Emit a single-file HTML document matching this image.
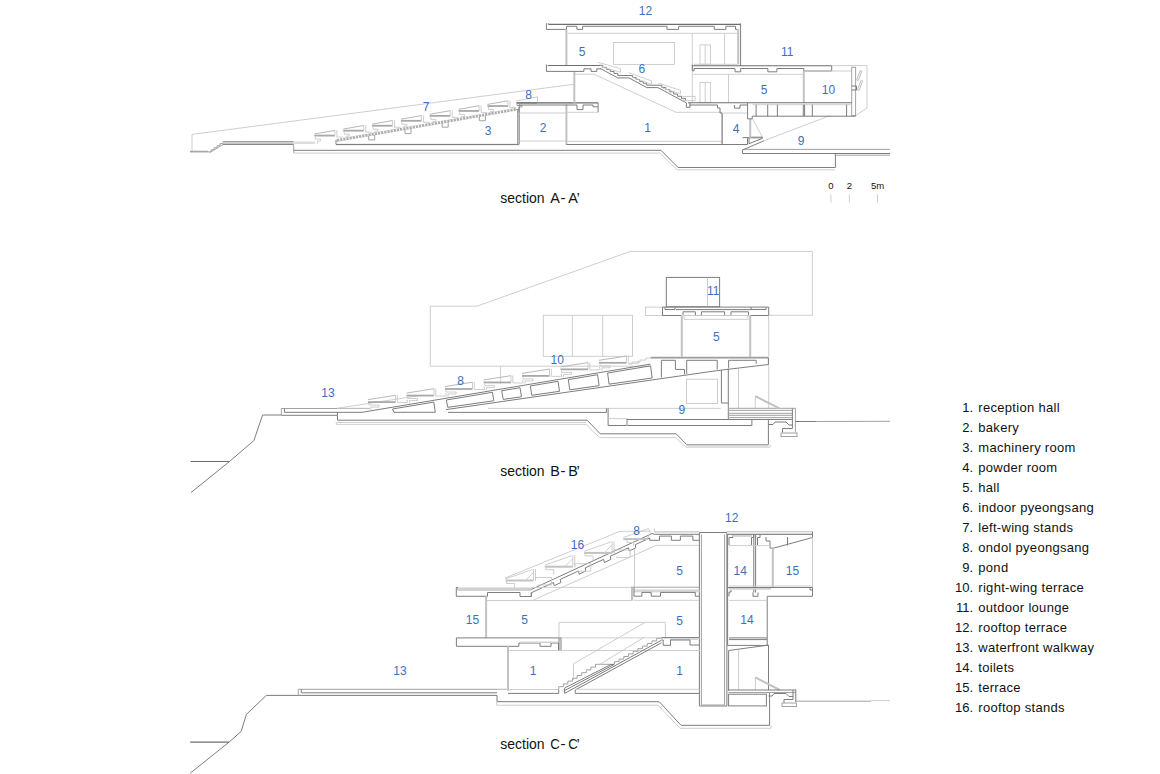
<!DOCTYPE html>
<html><head><meta charset="utf-8"><style>
html,body{margin:0;padding:0;background:#fff;}
body{width:1160px;height:774px;overflow:hidden;}
svg{display:block;}
text{font-family:"Liberation Sans",sans-serif;}
.d{fill:none;stroke:#7d7d7d;stroke-width:1;}
.k{fill:none;stroke:#6e6e6e;stroke-width:1.1;}
.m{fill:none;stroke:#a2a2a2;stroke-width:1;}
.l{fill:none;stroke:#c8c8c8;stroke-width:0.9;}
.g{fill:none;stroke:#c2c2c2;stroke-width:2;}
.s{fill:none;stroke:#a8a8a8;stroke-width:1.8;}
.n{fill:none;stroke:#b8b8b8;stroke-width:1;}
.h{fill:none;stroke:#adadad;stroke-width:2.6;}
</style></head><body>
<svg width="1160" height="774" viewBox="0 0 1160 774">
<path class="l" d="M192 134.4 L573 84.4"/>
<path class="l" d="M192 134.4 L192 151"/>
<path class="s" d="M190 151.6 L208.2 151.6"/>
<path class="m" d="M208.1 151.9 L211.1 151.9 L211.1 149.82 L211.1 149.82 L214.1 149.82 L214.1 147.74 L214.1 147.74 L217.1 147.74 L217.1 145.66 L217.1 145.66 L220.1 145.66 L220.1 143.58 L220.1 143.58 L223.1 143.58 L223.1 141.5"/>
<path class="m" d="M209.8 152.6 L224.5 143.6"/>
<rect fill="#cfcfcf" x="223" y="141.5" width="70.7" height="3"/>
<path class="m" d="M223 141.5 L293.7 141.5"/>
<path class="d" d="M223 144.4 L293.7 144.4"/>
<rect fill="#dedede" x="293.7" y="141.5" width="21.5" height="2.5"/>
<path class="m" d="M293.7 144.4 L293.7 153.1"/>
<path class="d" d="M293.7 150.3 L661 150.3 L678 167.5 L835.4 167.5 L835.4 153.5"/>
<path class="l" d="M293.7 153.1 L660 153.1 L677 169.8 L835 169.8"/>
<path class="d" d="M742.5 150 L742.5 153.5 L890 153.5"/>
<path class="m" d="M742.5 149.4 L890 149.4"/>
<path class="m" d="M835.4 155.2 L890 155.2"/>
<path class="d" d="M742.5 150 L764.4 140.6"/>
<path class="l" d="M764.4 140.6 L829.8 115.7"/>
<path class="l" d="M752.5 118.7 L762.5 137.5"/>
<path class="h" d="M336 140.6 L516 109.4"/>
<path stroke="#fff" stroke-width="2.6" fill="none" stroke-dasharray="1 2.2" d="M336 140.6 L516 109.4"/>
<path class="d" d="M336 140 L336 144.4 L517.5 144.4"/>
<path class="d" d="M336 144.6 L519 144.6"/>
<path class="s" d="M314.4 135.6 L334.9 135.6"/>
<path class="n" d="M314.4 134 L334.9 130.4"/>
<path class="l" d="M334.9 130.1 L334.9 135.6"/>
<path class="l" d="M336.9 130.1 L336.9 137.1 L342.9 137.1"/>
<path class="l" d="M315.4 136.6 L315.4 139.1 L320.4 139.1 L320.4 141.1 L317.4 141.1 L317.4 143.6"/>
<path class="s" d="M343.24 130.67 L363.74 130.67"/>
<path class="n" d="M343.24 129.07 L363.74 125.47"/>
<path class="l" d="M363.74 125.17 L363.74 130.67"/>
<path class="l" d="M365.74 125.17 L365.74 132.17 L371.74 132.17"/>
<path class="l" d="M344.24 131.67 L344.24 134.17 L349.24 134.17 L349.24 136.17 L346.24 136.17 L346.24 138.67"/>
<path class="s" d="M372.08 125.74 L392.58 125.74"/>
<path class="n" d="M372.08 124.14 L392.58 120.54"/>
<path class="l" d="M392.58 120.24 L392.58 125.74"/>
<path class="l" d="M394.58 120.24 L394.58 127.24 L400.58 127.24"/>
<path class="l" d="M373.08 126.74 L373.08 129.24 L378.08 129.24 L378.08 131.24 L375.08 131.24 L375.08 133.74"/>
<path class="s" d="M400.92 120.81 L421.42 120.81"/>
<path class="n" d="M400.92 119.21 L421.42 115.61"/>
<path class="l" d="M421.42 115.31 L421.42 120.81"/>
<path class="l" d="M423.42 115.31 L423.42 122.31 L429.42 122.31"/>
<path class="l" d="M401.92 121.81 L401.92 124.31 L406.92 124.31 L406.92 126.31 L403.92 126.31 L403.92 128.81"/>
<path class="s" d="M429.76 115.88 L450.26 115.88"/>
<path class="n" d="M429.76 114.28 L450.26 110.68"/>
<path class="l" d="M450.26 110.38 L450.26 115.88"/>
<path class="l" d="M452.26 110.38 L452.26 117.38 L458.26 117.38"/>
<path class="l" d="M430.76 116.88 L430.76 119.38 L435.76 119.38 L435.76 121.38 L432.76 121.38 L432.76 123.88"/>
<path class="s" d="M458.6 110.95 L479.1 110.95"/>
<path class="n" d="M458.6 109.35 L479.1 105.75"/>
<path class="l" d="M479.1 105.45 L479.1 110.95"/>
<path class="l" d="M481.1 105.45 L481.1 112.45 L487.1 112.45"/>
<path class="l" d="M459.6 111.95 L459.6 114.45 L464.6 114.45 L464.6 116.45 L461.6 116.45 L461.6 118.95"/>
<path class="s" d="M487.44 106.02 L507.94 106.02"/>
<path class="n" d="M487.44 104.42 L507.94 100.82"/>
<path class="l" d="M507.94 100.52 L507.94 106.02"/>
<path class="l" d="M509.94 100.52 L509.94 107.52 L515.94 107.52"/>
<path class="l" d="M488.44 107.02 L488.44 109.52 L493.44 109.52 L493.44 111.52 L490.44 111.52 L490.44 114.02"/>
<path class="m" d="M368.7 135.93 L368.7 139.93 L374.7 139.93 L374.7 134.93"/>
<path class="m" d="M405 129.64 L405 133.64 L411 133.64 L411 128.64"/>
<path class="m" d="M442.2 123.2 L442.2 127.2 L448.2 127.2 L448.2 122.2"/>
<path class="m" d="M479.4 116.75 L479.4 120.75 L485.4 120.75 L485.4 115.75"/>
<path class="s" d="M516.2 102.9 L537 102.9"/>
<path class="l" d="M516.2 101 L537 97"/>
<path class="l" d="M537.5 96.5 L537.5 103"/>
<path class="l" d="M537 102.9 L574 102.9"/>
<path class="m" d="M517 103.5 L517 105.5 L522 105.5 L522 107 L519 107 L519 109.4"/>
<path class="m" d="M516 109.4 L519 109.4 L519 113"/>
<path class="d" d="M517.8 109.4 L517.8 144.4"/>
<path class="d" d="M519.2 104.4 L519.2 144.4"/>
<path class="g" d="M566.4 104.4 L566.4 144.6"/>
<path class="l" d="M519.2 113 L566 113"/>
<path class="l" d="M519.2 141 L566 141"/>
<path class="k" d="M517 102.9 L598.1 102.9"/>
<path class="d" d="M519.2 105 L577 105 L577 109.6 L583 109.6 L583 105 L593 105 L593 106.8 L598.1 106.8 L598.1 102.9"/>
<path class="d" d="M598.1 106.8 L598.1 112.3"/>
<path class="l" d="M566.5 112.3 L598.1 112.3"/>
<path class="g" d="M574.3 71.4 L574.3 102.9"/>
<path class="l" d="M566.4 141.4 L722 141.4"/>
<path class="d" d="M566.4 144.5 L747.5 144.5"/>
<path class="k" d="M722.1 113 L722.1 144.5"/>
<path class="d" d="M747.5 144.5 L747.5 138.2"/>
<path class="d" d="M742.5 137.6 L749 137.6"/>
<rect fill="#c8c8c8" x="749" y="137.2" width="13.5" height="1.6"/>
<path class="d" d="M749 137.6 L749 143.7 L762.5 138.3 L762.5 137.2 L749 137.2"/>
<path class="g" d="M750.2 118.8 L750.2 137.8"/>
<path class="l" d="M575 74.2 L594 74.2 L676 112.3 L722 112.3"/>
<path class="k" d="M548.4 24.4 L740.6 24.4"/>
<path class="d" d="M548.4 23.3 L548.4 24.4"/>
<path class="d" d="M546.4 23.2 L546.4 29.4 L566.5 29.4 L566.5 26.3 L576.9 26.3 L576.9 29.4 L582.6 29.4 L582.6 26.3 L667 26.3 L667 29.4 L678.6 29.4 L678.6 26.3 L714.3 26.3 L714.3 29.4 L725.9 29.4 L725.9 26.3 L735.5 26.3 L735.5 29.4 L737.5 29.4"/>
<path class="g" d="M738.2 29 L738.2 64.5"/>
<path class="d" d="M740.6 23.4 L740.6 66"/>
<path class="g" d="M566.4 29.4 L566.4 65.5"/>
<path class="l" d="M567.8 33.3 L737 33.3"/>
<rect class="l" x="613.6" y="42.5" width="60.8" height="21.9"/>
<path class="l" d="M692.3 33.3 L692.3 102.8"/>
<path class="l" d="M724.6 33.3 L724.6 64.2"/>
<rect class="l" x="700" y="44.9" width="10.4" height="19.3"/>
<path class="l" d="M705.2 44.9 L705.2 64.2"/>
<rect class="l" x="700" y="82.4" width="10.4" height="20.2"/>
<path class="l" d="M705.2 82.4 L705.2 102.6"/>
<path class="l" d="M728.5 74.3 L728.5 102.6"/>
<path class="k" d="M547.6 65.5 L600 65.5"/>
<path class="d" d="M546.4 64.5 L546.4 71.4 L583.9 71.4 L583.9 68.8 L591 68.8 L591 71.4 L596.8 71.4 L596.8 68.8 L601 68.8"/>
<path class="d" d="M598.9 65.3 L602.68 65.3 L602.68 67.34 L602.68 67.34 L606.46 67.34 L606.46 69.38 L606.46 69.38 L610.24 69.38 L610.24 71.42 L610.24 71.42 L614.02 71.42 L614.02 73.46 L614.02 73.46 L617.8 73.46 L617.8 75.5 L629 75.5 L629 75.5 L632.54 75.5 L632.54 77.44 L632.54 77.44 L636.08 77.44 L636.08 79.38 L636.08 79.38 L639.62 79.38 L639.62 81.32 L639.62 81.32 L643.16 81.32 L643.16 83.26 L643.16 83.26 L646.7 83.26 L646.7 85.2 L657.9 85.2 L657.9 85.2 L661.84 85.2 L661.84 87.41 L661.84 87.41 L665.79 87.41 L665.79 89.63 L665.79 89.63 L669.73 89.63 L669.73 91.84 L669.73 91.84 L673.67 91.84 L673.67 94.06 L673.67 94.06 L677.61 94.06 L677.61 96.27 L677.61 96.27 L681.56 96.27 L681.56 98.49 L681.56 98.49 L685.5 98.49 L685.5 100.7"/>
<path class="d" d="M600 68.3 L617.8 77.9 L629 77.9 L646.7 87.6 L657.9 87.6 L686.4 102.9 L686.4 107.3 L690 107.3 L690 103"/>
<path class="l" d="M598 62.3 L620.5 68.8 L620.5 72.2 L601 66.8"/>
<path class="l" d="M628.6 72.6 L651.5 80.9 L651.5 84.3 L631.6 77.1"/>
<path class="l" d="M658.4 83.2 L680.5 90.3 L680.5 93.7 L661.4 87.7"/>
<rect class="l" x="683" y="96.4" width="12" height="4.3"/>
<path class="k" d="M692 65.8 L831.7 65.8"/>
<path class="l" d="M694 64.3 L737 64.3"/>
<path class="d" d="M692.3 64.6 L692.3 70.7 L694 70.7 L694 68.5 L735 68.5 L735 71.8 L740.7 71.8 L740.7 68.5 L767.9 68.5 L767.9 71.8 L776.9 71.8 L776.9 68.5 L803.8 68.5 L803.8 71 L831.7 71 L831.7 65.8"/>
<path class="l" d="M693 74.3 L803 74.3"/>
<path class="g" d="M803.8 71 L803.8 103"/>
<path class="l" d="M831.7 65.6 L867 65.6 L867 108 L855.6 115.7"/>
<path class="l" d="M804 71 L851.7 71"/>
<rect class="m" x="851.7" y="67.3" width="3.9" height="48.4"/>
<path class="d" d="M851.7 86 L856.5 86 L856.5 90 L851.7 90"/>
<path d="M857.8 79.5 L860.8 71.5" stroke="#b8b8b8" stroke-width="2.6" stroke-linecap="round" fill="none"/>
<path d="M857.8 79.5 L860.8 71.5" stroke="#fff" stroke-width="0.9" stroke-linecap="round" fill="none"/>
<path d="M858.5 89.5 L861.5 81.5" stroke="#b8b8b8" stroke-width="2.6" stroke-linecap="round" fill="none"/>
<path d="M858.5 89.5 L861.5 81.5" stroke="#fff" stroke-width="0.9" stroke-linecap="round" fill="none"/>
<path class="k" d="M688 102.8 L851.7 102.8"/>
<path class="d" d="M689.5 105 L717.5 105 L717.5 108 L720 108 L720 113 L722.1 113"/>
<path class="d" d="M734.4 105 L734.4 108.1 L740 108.1 L740 105 L747.5 105"/>
<path class="l" d="M722.1 113 L747.5 113"/>
<path class="d" d="M747.6 103 L747.6 118.9 L752.2 118.9 L752.2 116.2 L855.6 116.2"/>
<path class="l" d="M752.5 104.7 L851.7 104.7"/>
<path class="d" d="M756.1 104.7 L756.1 116.2"/>
<path class="d" d="M767.7 104.7 L767.7 116.2"/>
<path class="d" d="M777.4 104.7 L777.4 116.2"/>
<path class="d" d="M803.3 104.7 L803.3 116.2"/>
<path class="d" d="M804.6 104.7 L804.6 116.2"/>
<path class="d" d="M812.3 104.7 L812.3 116.2"/>
<path class="d" d="M846.6 104.7 L846.6 116.2"/>
<path class="l" d="M830.9 194.4 L830.9 202.5"/>
<path class="l" d="M849.4 194.4 L849.4 202.5"/>
<path class="l" d="M877.5 194.4 L877.5 202.5"/>
<path class="d" d="M190.9 492.6 L229.5 461.5 L253.9 440.5 L262.6 415 L281.3 415"/>
<path class="k" d="M190.6 461.5 L229.5 461.5"/>
<path class="m" d="M281.3 415.3 L281.3 408.5 L370 408.5"/>
<path class="d" d="M284.4 408.5 L284.4 412.3 L362 412.3"/>
<path class="d" d="M281.3 415.3 L337.5 415.3"/>
<path class="l" d="M337 408.3 L420 395.5"/>
<path class="l" d="M337 408.3 L370 408.3"/>
<path class="d" d="M337.5 412.3 L337.5 415.3"/>
<path class="d" d="M337.5 415.3 L337.5 420.2 L587.2 420.2 L600.2 433.8 L676.2 433.8 L686.5 444.5 L768.4 444.5 L768.4 419.5"/>
<path class="l" d="M336 424.4 L586 424.4 L599.5 437.6 L675.5 437.6 L686 447.2 L770 447.2 L770 444.5"/>
<path class="l" d="M336.3 424.4 L336.3 422.5 L586 422.5"/>
<rect fill="#d2d2d2" x="686.5" y="444.5" width="82" height="2"/>
<path class="l" d="M650 366.2 L430.3 366.2 L430.3 306.2 L476.9 306.2 L630.3 251.4 L812.4 251.4 L812.4 315.3 L768.7 315.3"/>
<path class="l" d="M500.6 366.2 L500.6 384"/>
<rect class="l" x="543.3" y="315.3" width="89.2" height="41"/>
<path class="l" d="M572.4 315.3 L572.4 356.3"/>
<path class="l" d="M602.7 315.3 L602.7 356.3"/>
<rect class="d" x="666.3" y="277.4" width="53.3" height="29.3"/>
<path class="l" d="M707.5 277.4 L707.5 306.7"/>
<rect class="l" x="645.4" y="307.1" width="17.1" height="8.4"/>
<path class="d" d="M662.5 307.1 L768.7 307.1"/>
<path class="d" d="M662.5 307.1 L662.5 315.5 L681.5 315.5"/>
<path class="d" d="M665 307.1 L665 309.5 L675 309.5 L675 307.1"/>
<path class="d" d="M676 309.6 L751 309.6"/>
<path class="d" d="M751 307.1 L751 309.5 L766 309.5 L766 307.1"/>
<path class="d" d="M683 315.5 L683 311.8 L695.4 311.8 L695.4 315.5 L701.4 315.5 L701.4 311.8 L724.6 311.8 L724.6 315.5 L731 315.5 L731 311.8 L748.5 311.8 L748.5 315.5"/>
<path class="d" d="M750.2 315.5 L768.7 315.5 L768.7 307.1"/>
<rect class="l" x="684" y="315.5" width="64" height="3.8"/>
<path class="g" d="M681.8 315.5 L681.8 357.4"/>
<path class="g" d="M750.2 315.5 L750.2 357.4"/>
<path class="l" d="M768.7 315.5 L768.7 408.3"/>
<rect fill="#cfcfcf" x="650.6" y="356.5" width="117.5" height="1.6"/>
<path class="d" d="M650.6 357.9 L768.4 357.9"/>
<path class="d" d="M768.4 357.9 L768.4 364.5"/>
<path class="d" d="M362 412.3 L650.6 364.1"/>
<path class="d" d="M446 409.6 L716.5 370.7 L768.4 364.5"/>
<path class="d" d="M392.5 409 L394 412.3 L435.3 412.3 L433.8 402.1Z"/>
<path class="d" d="M446.3 400.01 L447.8 407.36 L493.9 400.73 L492.4 392.3Z"/>
<path class="d" d="M501.7 390.74 L503.2 399.4 L521.5 396.77 L520 387.68Z"/>
<path class="d" d="M530.3 385.96 L531.8 395.29 L559.5 391.31 L558 381.33Z"/>
<path class="d" d="M568.3 379.61 L569.8 389.83 L599.1 385.62 L597.6 374.71Z"/>
<path class="d" d="M607.6 373.04 L609.1 384.18 L652.1 378 L650.6 365.85Z"/>
<path class="d" d="M661.4 360.3 L675.4 360.3 L675.4 369.4 L684.5 369.4 L684.5 374.4"/>
<path class="d" d="M661.4 360.3 L661.4 377.5"/>
<path class="d" d="M686.7 374 L686.7 360.3 L717.2 360.3 L717.2 369.5"/>
<path class="d" d="M728.6 367.8 L728.6 360.3 L756.2 360.3 L756.2 363.8"/>
<path class="d" d="M721.4 370 L721.4 403"/>
<path class="d" d="M728.3 368.5 L728.3 419.5"/>
<path class="d" d="M721.4 403 L728.3 403"/>
<rect class="l" x="686.6" y="379.2" width="30.9" height="24.3"/>
<path class="l" d="M738.5 369 L738.5 408.3"/>
<path class="l" d="M488 408.4 L720.7 408.4"/>
<path class="d" d="M448 412.4 L606.4 412.4 L606.4 408.4"/>
<path class="d" d="M608.1 408.4 L608.1 425.5 L751.9 425.5 L751.9 419.5"/>
<path class="l" d="M608.1 418.6 L626.8 418.6"/>
<path class="g" d="M627 418.6 L627 425.5"/>
<path class="d" d="M627 419.5 L751.9 419.5"/>
<path class="m" d="M728.4 408.3 L792.4 408.3"/>
<path class="m" d="M728.4 410.4 L792.4 410.4"/>
<path class="m" d="M728.4 413.3 L792.4 413.3"/>
<path class="m" d="M728.4 415.3 L792.4 415.3"/>
<path class="m" d="M728.4 417.6 L792.4 417.6"/>
<path class="d" d="M728.4 419.5 L792.4 419.5"/>
<path class="m" d="M792.4 408.3 L795.4 408.3 L795.4 432.8"/>
<path class="l" d="M755.3 408.3 L755.3 396.2 L779.5 408.3"/>
<path class="g" d="M755.3 396.2 L779.5 408.3"/>
<path class="d" d="M768.4 424.5 L773 424.5 L775 422 L786 422 L789 425 L792.4 425"/>
<path class="d" d="M792.4 408.3 L792.4 428.5"/>
<path class="d" d="M792.4 428.5 L782.5 428.5 L782.5 433"/>
<rect class="m" x="781" y="433" width="16" height="3.5"/>
<rect fill="#cfcfcf" x="782" y="432.5" width="14" height="1.5"/>
<path class="d" d="M795.4 421.5 L816 421.5"/>
<path class="m" d="M816 421.5 L890 421.3"/>
<path class="s" d="M368 402.1 L395.5 402.1"/>
<path class="n" d="M368 399.6 L395.5 395.3"/>
<path class="l" d="M395.5 395.1 L395.5 402.1"/>
<path class="l" d="M397.3 395.1 L397.3 402.6 L407.5 402.6 L407.5 400.3 L406.5 400.3"/>
<path class="l" d="M369 403.1 L369 405.1 L379 405.1 L379 407.1 L371 407.1 L371 410.1"/>
<path class="s" d="M406.5 395.55 L434 395.55"/>
<path class="n" d="M406.5 393.05 L434 388.75"/>
<path class="l" d="M434 388.55 L434 395.55"/>
<path class="l" d="M435.8 388.55 L435.8 396.05 L446 396.05 L446 393.75 L445 393.75"/>
<path class="l" d="M407.5 396.55 L407.5 398.55 L417.5 398.55 L417.5 400.55 L409.5 400.55 L409.5 403.55"/>
<path class="s" d="M445 389 L472.5 389"/>
<path class="n" d="M445 386.5 L472.5 382.2"/>
<path class="l" d="M472.5 382 L472.5 389"/>
<path class="l" d="M474.3 382 L474.3 389.5 L484.5 389.5 L484.5 387.2 L483.5 387.2"/>
<path class="l" d="M446 390 L446 392 L456 392 L456 394 L448 394 L448 397"/>
<path class="s" d="M483.5 382.45 L511 382.45"/>
<path class="n" d="M483.5 379.95 L511 375.65"/>
<path class="l" d="M511 375.45 L511 382.45"/>
<path class="l" d="M512.8 375.45 L512.8 382.95 L523 382.95 L523 380.65 L522 380.65"/>
<path class="l" d="M484.5 383.45 L484.5 385.45 L494.5 385.45 L494.5 387.45 L486.5 387.45 L486.5 390.45"/>
<path class="s" d="M522 375.9 L549.5 375.9"/>
<path class="n" d="M522 373.4 L549.5 369.1"/>
<path class="l" d="M549.5 368.9 L549.5 375.9"/>
<path class="l" d="M551.3 368.9 L551.3 376.4 L561.5 376.4 L561.5 374.1 L560.5 374.1"/>
<path class="l" d="M523 376.9 L523 378.9 L533 378.9 L533 380.9 L525 380.9 L525 383.9"/>
<path class="s" d="M560.5 369.35 L588 369.35"/>
<path class="n" d="M560.5 366.85 L588 362.55"/>
<path class="l" d="M588 362.35 L588 369.35"/>
<path class="l" d="M589.8 362.35 L589.8 369.85 L600 369.85 L600 367.55 L599 367.55"/>
<path class="l" d="M561.5 370.35 L561.5 372.35 L571.5 372.35 L571.5 374.35 L563.5 374.35 L563.5 377.35"/>
<path class="s" d="M599 362.8 L626.5 362.8"/>
<path class="n" d="M599 360.3 L626.5 356"/>
<path class="l" d="M626.5 355.8 L626.5 362.8"/>
<path class="l" d="M628.3 355.8 L628.3 363.3 L638.5 363.3 L638.5 361 L637.5 361"/>
<path class="l" d="M600 363.8 L600 365.8 L610 365.8 L610 367.8 L602 367.8 L602 370.8"/>
<path class="l" d="M628.4 364 L632 364 L632 362 L640 362 L640 360 L646 360 L646 358 L650.6 358"/>
<path class="d" d="M190.2 773.2 L229.1 742.1 L241.2 731.4 L246.4 714.4 L266.3 695.4 L298.3 695.4"/>
<path class="k" d="M190.2 742.1 L229.1 742.1"/>
<path class="m" d="M298.3 695.4 L298.3 689.3 L508 689.3"/>
<path class="d" d="M301.3 689.3 L301.3 692.8 L497 692.8"/>
<path class="d" d="M298.3 695.4 L497 695.4"/>
<path class="d" d="M497 695.4 L497 701.7 L659.2 701.7 L681 725.3 L769.6 725.3 L769.6 692.5"/>
<path class="l" d="M496.7 701.7 L496.7 705.2 L658 705.2 L680 728.3 L771 728.3 L771 725.3"/>
<path class="d" d="M699.4 532.5 L699.4 706 L726.9 706 L726.9 532.5"/>
<path class="m" d="M701.4 534.3 L701.4 705 L724.6 705 L724.6 534.3"/>
<path class="d" d="M699.4 532.5 L726.9 532.5"/>
<rect fill="#d3d3d3" x="654.3" y="531" width="44.5" height="1.6"/>
<path class="l" d="M654.3 528.5 L654.3 531.7"/>
<path class="d" d="M652.2 533.5 L654.3 534.3 L699.4 534.3"/>
<path class="d" d="M649.7 540.3 L659.5 540.3 L659.5 536.1 L671.4 536.1 L671.4 540.3 L680.4 540.3 L680.4 536.1 L692.9 536.1 L692.9 540.3 L699.4 540.3"/>
<path class="l" d="M656 545.4 L699 545.4"/>
<path class="l" d="M726.9 531.5 L812.5 531.5"/>
<path class="d" d="M726.9 534.4 L812.5 534.4"/>
<rect fill="#dcdcdc" x="727" y="532.5" width="85" height="1.5"/>
<path class="d" d="M812.5 531.5 L812.5 537.5"/>
<path class="d" d="M812.5 537.5 L773.8 548.1 L770 548.1 L770 541 L766 541 L766 537"/>
<path class="d" d="M787.5 537 L787.5 545.5"/>
<path class="l" d="M812.5 537.5 L812.5 587.5"/>
<path class="d" d="M729 545 L729 537.5 L733 537.5 L733 535"/>
<path class="d" d="M751.5 545 L751.5 537.5 L753.7 537.5 L753.7 535"/>
<path class="d" d="M757.5 545 L757.5 537.5 L760 537.5 L760 535"/>
<rect fill="#d5d5d5" x="733" y="535" width="19" height="2"/>
<path class="d" d="M727.6 535 L727.6 645.4"/>
<path class="d" d="M753.8 535 L753.8 592.5"/>
<path class="d" d="M755.6 535 L755.6 592.5"/>
<path class="g" d="M772.8 548 L772.8 587.5"/>
<path class="l" d="M729 545.6 L770 545.6"/>
<path class="l" d="M729 586 L812 586"/>
<rect fill="#d2d2d2" x="729" y="587.5" width="42" height="2.2"/>
<path class="d" d="M727.6 587.5 L812.5 587.5"/>
<path class="d" d="M812.5 587.5 L812.5 596.3 L767.2 596.3 L767.2 645.4"/>
<path class="d" d="M729 596.3 L729 592 L731 592 L731 590"/>
<path class="d" d="M753 592.5 L753 596.3 L758 596.3 L758 592.5"/>
<path class="d" d="M810 587.5 L810 590 L812.5 590"/>
<path class="l" d="M729 600.4 L767 600.4"/>
<path class="d" d="M729 637.9 L767 637.9"/>
<path class="d" d="M729 639.6 L767 639.6"/>
<path class="d" d="M727.6 645.4 L768.5 645.4"/>
<path class="d" d="M728.6 690.8 L728.6 650.5 L768.5 645.1 L768.5 690"/>
<path class="l" d="M738.6 650 L738.6 690"/>
<path class="l" d="M755.4 690 L755.4 677.4 L779.8 690"/>
<path class="g" d="M755.4 677.4 L779.8 690"/>
<path class="d" d="M728.6 690 L795.8 690"/>
<path class="m" d="M728.6 692.5 L795.8 692.5"/>
<rect class="d" x="728.6" y="694.2" width="37.8" height="11.7"/>
<path class="d" d="M768.5 696 L772 696 L774 693.5 L786 693.5 L789 696.5 L793 696.5"/>
<path class="d" d="M793 690 L793 699.5 L784 699.5 L784 703"/>
<path class="d" d="M795.8 689.5 L795.8 702"/>
<rect class="m" x="782" y="703" width="14.5" height="3.5"/>
<path class="m" d="M795.8 701.2 L871 701.2"/>
<path class="l" d="M871 700.6 L890 700.6"/>
<path class="d" d="M529.7 590.2 L652.2 533.5"/>
<path class="d" d="M531.3 596.5 L531.3 592.8 L553.5 582.52 L554.3 585.72 L560.7 582.58 L560.3 579.38 L578.4 571 L579.2 574.2 L585.6 571.05 L585.2 567.85 L603.6 559.34 L604.4 562.54 L610.8 559.39 L610.4 556.19 L628.5 547.81 L629.3 551.01 L635.7 547.86 L635.3 544.66 L649.7 538 L649.7 540.3"/>
<path class="l" d="M532.4 600.5 L656.2 545.4"/>
<path class="l" d="M634.5 549 L634.5 587.5"/>
<path class="l" d="M531 587.4 L632.8 587.4"/>
<path class="l" d="M487 600.5 L632.8 600.5"/>
<path class="l" d="M632.8 587.4 L632.8 600.5"/>
<rect fill="#d0d0d0" x="457" y="587.5" width="74" height="3.4"/>
<path class="d" d="M458 587.5 L456.3 587.5 L456.3 596.3 L487.5 596.3 L487.5 592.5 L520 592.5 L520 596.5 L531.3 596.5 L531.3 592.6"/>
<path class="g" d="M486.1 596.3 L486.1 638"/>
<rect fill="#d6d6d6" x="634" y="589.4" width="65.4" height="3"/>
<path class="m" d="M631 587.2 L699.4 587.2"/>
<path class="g" d="M632 587.2 L632 600"/>
<path class="d" d="M634 587.2 L634 596.2 L641.9 596.2 L641.9 592.4 L651.2 592.4 L651.2 596.2 L660.5 596.2 L660.5 592.4 L695.3 592.4 L695.3 596.2 L699.4 596.2"/>
<path class="l" d="M634 600.3 L699 600.3"/>
<path class="g" d="M505.5 580.5 L533.5 580.5"/>
<path class="l" d="M505.5 578.9 L532.5 569.5"/>
<path class="l" d="M533.5 569 L533.5 580.5"/>
<path class="l" d="M525.5 580.5 L533.5 572.5"/>
<path class="l" d="M535.5 569 L535.5 581 L535.5 577.5 L551.5 577.5 L551.5 585 L537.5 585"/>
<path class="l" d="M506.5 581.5 L506.5 583.5 L514.5 583.5 L514.5 588.5"/>
<path class="g" d="M544.8 566.7 L572.8 566.7"/>
<path class="l" d="M544.8 565.1 L571.8 555.7"/>
<path class="l" d="M572.8 555.2 L572.8 566.7"/>
<path class="l" d="M564.8 566.7 L572.8 558.7"/>
<path class="l" d="M574.8 555.2 L574.8 567.2 L574.8 563.7 L590.8 563.7 L590.8 571.2 L576.8 571.2"/>
<path class="l" d="M545.8 567.7 L545.8 569.7 L553.8 569.7 L553.8 574.7"/>
<path class="g" d="M584.1 552.9 L612.1 552.9"/>
<path class="l" d="M584.1 551.3 L611.1 541.9"/>
<path class="l" d="M612.1 541.4 L612.1 552.9"/>
<path class="l" d="M604.1 552.9 L612.1 544.9"/>
<path class="l" d="M614.1 541.4 L614.1 553.4 L614.1 549.9 L630.1 549.9 L630.1 557.4 L616.1 557.4"/>
<path class="l" d="M585.1 553.9 L585.1 555.9 L593.1 555.9 L593.1 560.9"/>
<path class="l" d="M505 578 L620 531.3 L650 531.3"/>
<path class="g" d="M623.4 539.1 L647 539.1"/>
<path class="l" d="M623.4 537.5 L648.5 528.6 L650.5 532.5 L647 539.1"/>
<path class="l" d="M627 540 L627 542.5 L633.5 542.5 L633.5 546"/>
<path class="d" d="M456.4 637.9 L561 637.9"/>
<path class="d" d="M456.4 637.9 L456.4 646.3 L518.9 646.3 L518.9 643 L540 643 L540 646.3 L551 646.3 L551 643 L558.5 643 L558.5 650.5 L561 650.5 L561 637.9"/>
<rect fill="#d2d2d2" x="520" y="641.5" width="38" height="1.5"/>
<path class="d" d="M559 637.9 L559 650.5"/>
<path class="g" d="M508 646.3 L508 690.8"/>
<path class="l" d="M509 650.5 L700 650.5"/>
<path class="l" d="M559 637.9 L559 622.3 L665.4 622.3 L665.4 637.9"/>
<path class="l" d="M561 637.9 L700 637.9"/>
<path class="d" d="M661.5 637.6 L699.4 637.6"/>
<rect fill="#d2d2d2" x="670" y="638.5" width="28" height="1.5"/>
<path class="d" d="M661.5 640 L663.2 640 L663.2 645.3 L670.5 645.3 L670.5 640 L690 640 L690 645 L699.4 645"/>
<path class="m" d="M554.5 689.5 L558.7 689.5 L558.7 686.7 L563.3 686.7 L563.3 686.7 L563.3 683.9 L567.9 683.9 L567.9 683.9 L567.9 681.1 L572.5 681.1 L572.5 681.1 L572.5 678.3 L577.1 678.3 L577.1 678.3 L577.1 675.5 L581.7 675.5 L581.7 675.5 L581.7 672.7 L586.3 672.7 L586.3 672.7 L586.3 669.9 L590.9 669.9 L590.9 669.9 L590.9 667.1 L595.5 667.1 L595.5 667.1 L595.5 664.3 L600.1 664.3 L614.4 664.3 L614.4 661.7 L619.1 661.7 L619.1 659.1 L623.8 659.1 L623.8 656.5 L628.5 656.5 L628.5 653.9 L633.2 653.9 L633.2 651.3 L637.9 651.3 L637.9 648.7 L642.6 648.7 L642.6 646.1 L647.3 646.1 L647.3 643.5 L652 643.5 L652 640.9 L656.7 640.9 L656.7 638.3 L661.4 638.3 L661.5 637.4"/>
<path class="d" d="M564.6 693.4 L564.6 688 L611 664.5 L614 664.5 L564.6 690.5"/>
<path class="d" d="M564.6 693.4 L661.5 640.2"/>
<path class="d" d="M575.2 693.4 L575.2 690 L661.5 642.8"/>
<path class="d" d="M558.7 689.5 L558.7 693.4"/>
<path class="l" d="M497 689.5 L558.7 689.5"/>
<path class="d" d="M508 693.4 L558.7 693.4"/>
<path class="l" d="M575.2 689.3 L699.4 689.3"/>
<path class="d" d="M575.2 693.4 L699.4 693.4"/>
<path class="l" d="M573.5 680 L573.5 663.75 L645.3 622.3"/>
<path class="l" d="M599.9 664.3 L644.1 637.4"/>
<text x="645.5" y="15.12" font-size="12" fill="#3d6fbd" text-anchor="middle">12</text>
<text x="582.1" y="56.02" font-size="12" fill="#3d6fbd" text-anchor="middle">5</text>
<text x="641.8" y="73.32" font-size="12" fill="#3d6fbd" text-anchor="middle">6</text>
<text x="787.3" y="55.62" font-size="12" fill="#3d6fbd" text-anchor="middle">11</text>
<text x="764" y="93.82" font-size="12" fill="#3d6fbd" text-anchor="middle">5</text>
<text x="828.5" y="93.92" font-size="12" fill="#3d6fbd" text-anchor="middle">10</text>
<text x="801.1" y="145.22" font-size="12" fill="#3d6fbd" text-anchor="middle">9</text>
<text x="736" y="133.07" font-size="12" fill="#3d6fbd" text-anchor="middle">4</text>
<text x="647.6" y="131.82" font-size="12" fill="#3d6fbd" text-anchor="middle">1</text>
<text x="543" y="132.22" font-size="12" fill="#3d6fbd" text-anchor="middle">2</text>
<text x="488" y="134.92" font-size="12" fill="#3d6fbd" text-anchor="middle">3</text>
<text x="528.5" y="99.07" font-size="12" fill="#3d6fbd" text-anchor="middle">8</text>
<text x="426.1" y="110.62" font-size="12" fill="#3d6fbd" text-anchor="middle">7</text>
<text x="830.9" y="189.4" font-size="9.5" fill="#111" text-anchor="middle">0</text>
<text x="849.4" y="189.4" font-size="9.5" fill="#111" text-anchor="middle">2</text>
<text x="877.5" y="189.4" font-size="9.5" fill="#111" text-anchor="middle">5m</text>
<text x="328" y="396.82" font-size="12" fill="#3d6fbd" text-anchor="middle">13</text>
<text x="460.5" y="384.82" font-size="12" fill="#3d6fbd" text-anchor="middle">8</text>
<text x="557.2" y="363.62" font-size="12" fill="#3d6fbd" text-anchor="middle">10</text>
<text x="713.3" y="295.02" font-size="12" fill="#3d6fbd" text-anchor="middle">11</text>
<text x="716.3" y="341.22" font-size="12" fill="#3d6fbd" text-anchor="middle">5</text>
<text x="681.9" y="413.82" font-size="12" fill="#3d6fbd" text-anchor="middle">9</text>
<text x="731.7" y="521.82" font-size="12" fill="#3d6fbd" text-anchor="middle">12</text>
<text x="577.5" y="548.72" font-size="12" fill="#3d6fbd" text-anchor="middle">16</text>
<text x="636.5" y="534.92" font-size="12" fill="#3d6fbd" text-anchor="middle">8</text>
<text x="679.5" y="575.02" font-size="12" fill="#3d6fbd" text-anchor="middle">5</text>
<text x="740.3" y="574.92" font-size="12" fill="#3d6fbd" text-anchor="middle">14</text>
<text x="792.5" y="574.92" font-size="12" fill="#3d6fbd" text-anchor="middle">15</text>
<text x="472.5" y="623.92" font-size="12" fill="#3d6fbd" text-anchor="middle">15</text>
<text x="524.5" y="623.92" font-size="12" fill="#3d6fbd" text-anchor="middle">5</text>
<text x="679.5" y="624.82" font-size="12" fill="#3d6fbd" text-anchor="middle">5</text>
<text x="747" y="623.92" font-size="12" fill="#3d6fbd" text-anchor="middle">14</text>
<text x="533.2" y="675.12" font-size="12" fill="#3d6fbd" text-anchor="middle">1</text>
<text x="679.7" y="675.12" font-size="12" fill="#3d6fbd" text-anchor="middle">1</text>
<text x="400" y="674.82" font-size="12" fill="#3d6fbd" text-anchor="middle">13</text>
<text x="973.2" y="411.5" font-size="13" fill="#111" text-anchor="end">1.</text>
<text x="978.3" y="411.5" font-size="13" fill="#111" letter-spacing="0.3">reception hall</text>
<text x="973.2" y="431.5" font-size="13" fill="#111" text-anchor="end">2.</text>
<text x="978.3" y="431.5" font-size="13" fill="#111" letter-spacing="0.3">bakery</text>
<text x="973.2" y="451.5" font-size="13" fill="#111" text-anchor="end">3.</text>
<text x="978.3" y="451.5" font-size="13" fill="#111" letter-spacing="0.3">machinery room</text>
<text x="973.2" y="471.5" font-size="13" fill="#111" text-anchor="end">4.</text>
<text x="978.3" y="471.5" font-size="13" fill="#111" letter-spacing="0.3">powder room</text>
<text x="973.2" y="491.5" font-size="13" fill="#111" text-anchor="end">5.</text>
<text x="978.3" y="491.5" font-size="13" fill="#111" letter-spacing="0.3">hall</text>
<text x="973.2" y="511.5" font-size="13" fill="#111" text-anchor="end">6.</text>
<text x="978.3" y="511.5" font-size="13" fill="#111" letter-spacing="0.3">indoor pyeongsang</text>
<text x="973.2" y="531.5" font-size="13" fill="#111" text-anchor="end">7.</text>
<text x="978.3" y="531.5" font-size="13" fill="#111" letter-spacing="0.3">left-wing stands</text>
<text x="973.2" y="551.5" font-size="13" fill="#111" text-anchor="end">8.</text>
<text x="978.3" y="551.5" font-size="13" fill="#111" letter-spacing="0.3">ondol pyeongsang</text>
<text x="973.2" y="571.5" font-size="13" fill="#111" text-anchor="end">9.</text>
<text x="978.3" y="571.5" font-size="13" fill="#111" letter-spacing="0.3">pond</text>
<text x="973.2" y="591.5" font-size="13" fill="#111" text-anchor="end">10.</text>
<text x="978.3" y="591.5" font-size="13" fill="#111" letter-spacing="0.3">right-wing terrace</text>
<text x="973.2" y="611.5" font-size="13" fill="#111" text-anchor="end">11.</text>
<text x="978.3" y="611.5" font-size="13" fill="#111" letter-spacing="0.3">outdoor lounge</text>
<text x="973.2" y="631.5" font-size="13" fill="#111" text-anchor="end">12.</text>
<text x="978.3" y="631.5" font-size="13" fill="#111" letter-spacing="0.3">rooftop terrace</text>
<text x="973.2" y="651.5" font-size="13" fill="#111" text-anchor="end">13.</text>
<text x="978.3" y="651.5" font-size="13" fill="#111" letter-spacing="0.3">waterfront walkway</text>
<text x="973.2" y="671.5" font-size="13" fill="#111" text-anchor="end">14.</text>
<text x="978.3" y="671.5" font-size="13" fill="#111" letter-spacing="0.3">toilets</text>
<text x="973.2" y="691.5" font-size="13" fill="#111" text-anchor="end">15.</text>
<text x="978.3" y="691.5" font-size="13" fill="#111" letter-spacing="0.3">terrace</text>
<text x="973.2" y="711.5" font-size="13" fill="#111" text-anchor="end">16.</text>
<text x="978.3" y="711.5" font-size="13" fill="#111" letter-spacing="0.3">rooftop stands</text>
<text x="500.3" y="203" font-size="15" fill="#111" textLength="44.3" lengthAdjust="spacingAndGlyphs">section</text>
<text x="550.3" y="203" font-size="15" fill="#111" textLength="9.6" lengthAdjust="spacingAndGlyphs">A</text>
<text x="560.6" y="203" font-size="15" fill="#111">-</text>
<text x="568.3" y="203" font-size="15" fill="#111" textLength="9.6" lengthAdjust="spacingAndGlyphs">A</text>
<text x="576.6" y="203" font-size="15" fill="#111">&#8217;</text>
<text x="500.3" y="475.7" font-size="15" fill="#111" textLength="44.3" lengthAdjust="spacingAndGlyphs">section</text>
<text x="550.3" y="475.7" font-size="15" fill="#111" textLength="9.6" lengthAdjust="spacingAndGlyphs">B</text>
<text x="560.6" y="475.7" font-size="15" fill="#111">-</text>
<text x="568.3" y="475.7" font-size="15" fill="#111" textLength="9.6" lengthAdjust="spacingAndGlyphs">B</text>
<text x="576.6" y="475.7" font-size="15" fill="#111">&#8217;</text>
<text x="500.3" y="748.8" font-size="15" fill="#111" textLength="44.3" lengthAdjust="spacingAndGlyphs">section</text>
<text x="550.3" y="748.8" font-size="15" fill="#111" textLength="9.6" lengthAdjust="spacingAndGlyphs">C</text>
<text x="560.6" y="748.8" font-size="15" fill="#111">-</text>
<text x="568.3" y="748.8" font-size="15" fill="#111" textLength="9.6" lengthAdjust="spacingAndGlyphs">C</text>
<text x="576.6" y="748.8" font-size="15" fill="#111">&#8217;</text>
</svg>
</body></html>
